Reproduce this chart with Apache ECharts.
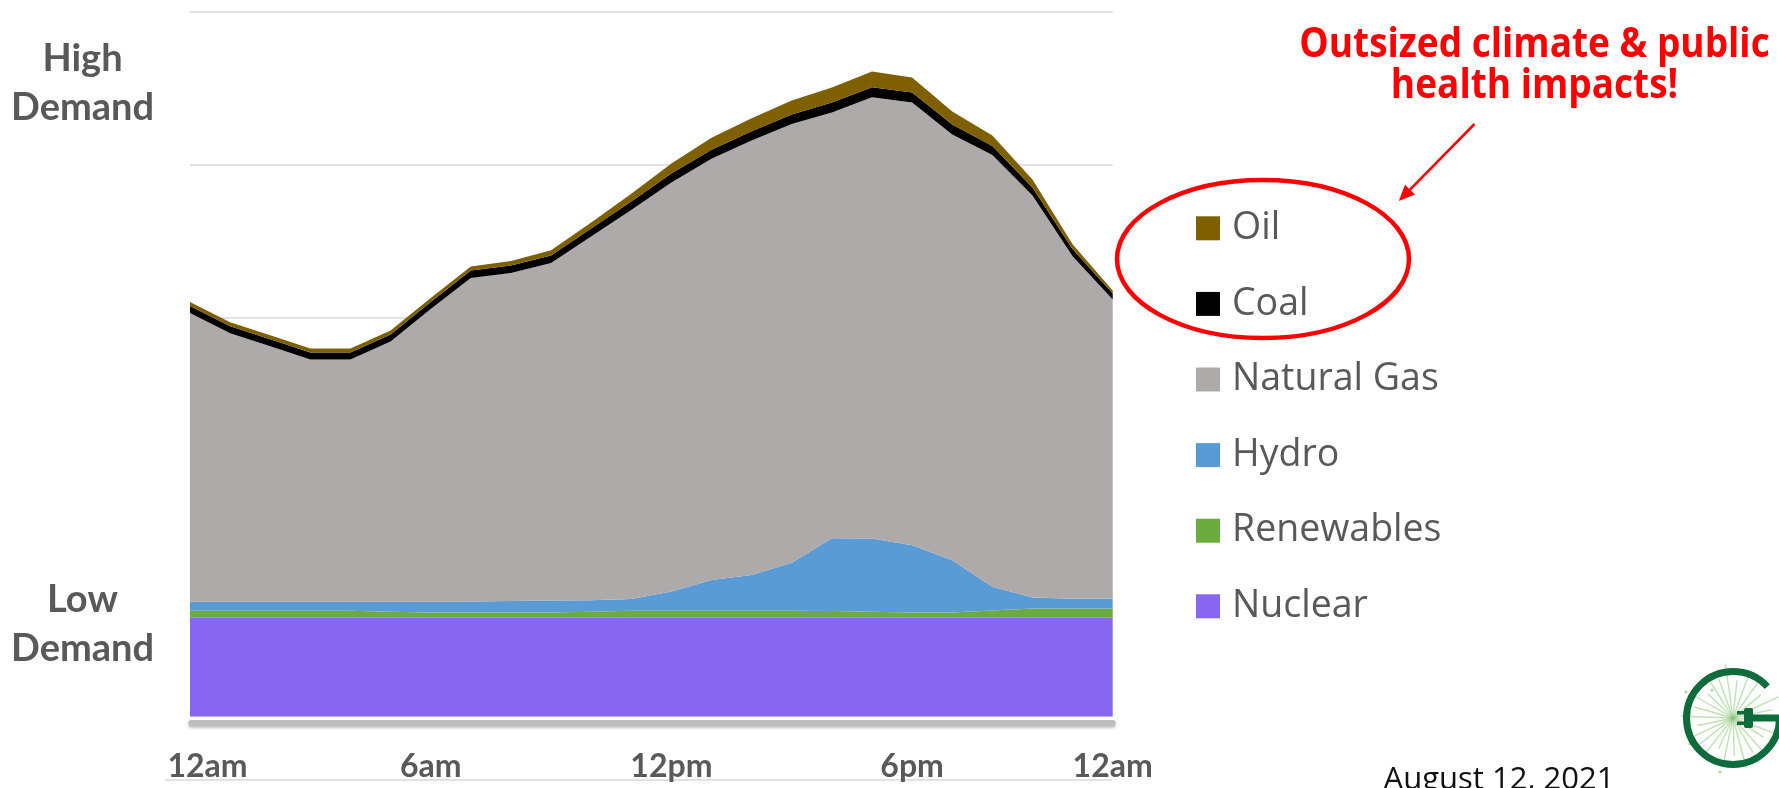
<!DOCTYPE html>
<html>
<head>
<meta charset="utf-8">
<script src="https://cdn.jsdelivr.net/npm/echarts@6/dist/echarts.min.js"></script>
<style>
  html, body { margin: 0; padding: 0; background: #ffffff; }
  #chart { width: 1779px; height: 788px; }
</style>
</head>
<body>
<div id="chart"></div>
<script>
// ---- data (hourly generation mix, arbitrary units) ----
const hours = ['0','1','2','3','4','5','6','7','8','9','10','11','12','13','14','15','16','17','18','19','20','21','22','23'];
const tickIndex = [0, 6, 12, 18, 23];
const tickLabels = ['12am', '6am', '12pm', '6pm', '12am'];
const seriesNames = ['Nuclear', 'Renewables', 'Hydro', 'Natural Gas', 'Coal', 'Oil'];
const legendOrder = ['Oil', 'Coal', 'Natural Gas', 'Hydro', 'Renewables', 'Nuclear'];

const nuclear    = [6.45,6.45,6.45,6.45,6.45,6.45,6.45,6.45,6.45,6.45,6.45,6.45,6.45,6.45,6.45,6.45,6.45,6.45,6.45,6.45,6.45,6.45,6.45,6.45];
const renewables = [0.46,0.46,0.46,0.46,0.46,0.40,0.35,0.35,0.35,0.35,0.40,0.46,0.46,0.46,0.46,0.46,0.44,0.40,0.35,0.35,0.47,0.61,0.61,0.61];
const hydro      = [0.59,0.59,0.59,0.59,0.59,0.64,0.69,0.72,0.74,0.78,0.75,0.76,1.25,2.00,2.33,3.13,4.74,4.77,4.38,3.41,1.55,0.72,0.63,0.63];
const naturalGas = [18.83,17.50,16.66,15.79,15.79,16.98,19.10,21.09,21.40,22.01,23.71,25.37,26.68,27.47,28.34,28.61,27.77,28.77,28.88,27.75,28.16,26.21,22.33,19.52];
const coal       = [0.46,0.46,0.46,0.46,0.46,0.46,0.46,0.49,0.49,0.49,0.52,0.55,0.59,0.59,0.59,0.62,0.65,0.65,0.65,0.65,0.59,0.52,0.46,0.39];
const oil        = [0.26,0.26,0.26,0.26,0.26,0.26,0.26,0.26,0.29,0.33,0.39,0.52,0.65,0.78,0.85,0.91,0.98,1.04,0.98,0.85,0.68,0.52,0.33,0.20];

const seriesData = [nuclear, renewables, hydro, naturalGas, coal, oil];
const colors = ['#8767f0', '#6cab3f', '#5b9bd5', '#aeaaaa', '#000000', '#7f6000'];

// value scale: 0..46 over the plot; gridlines every 10 units counted from -4
const yMax = 46, gridMin = -4, gridStep = 10;

const chart = echarts.init(document.getElementById('chart'), null, { renderer: 'canvas' });

const labelFont = { color: '#595959', fontFamily: 'Lato', fontWeight: 700, fontSize: 32, lineHeight: 32 };

function areaSeries(i) {
  return {
    name: seriesNames[i],
    type: 'line',
    stack: 'total',
    xAxisIndex: 0,
    yAxisIndex: 0,
    data: seriesData[i],
    symbol: 'none',
    showSymbol: false,
    lineStyle: { width: 0, color: colors[i] },
    itemStyle: { color: colors[i] },
    areaStyle: { color: colors[i], opacity: 1 },
    emphasis: { disabled: true },
    silent: true
  };
}

// light rays of the logo
const logoCx = 1733, logoCy = 718;
const rayAngles = [5, 20, 32, 48, 60, 75, 88, 102, 115, 128, 142, 155, 168, 182, 196, 210, 224, 238, 250, 262, 276, 290, 305, 320, 335, 348];
const rayLens = [30, 44, 36, 48, 40, 52, 38, 47, 34, 50, 42, 46, 36, 52, 40, 47, 35, 50, 42, 55, 38, 48, 44, 36, 50, 40];
const rays = rayAngles.map((a, k) => {
  const r = a * Math.PI / 180;
  return {
    type: 'line', silent: true,
    shape: { x1: logoCx, y1: logoCy, x2: logoCx + Math.cos(r) * rayLens[k], y2: logoCy + Math.sin(r) * rayLens[k] },
    style: { stroke: 'rgba(140,200,120,0.55)', lineWidth: 1.4 }
  };
});

const textStyleC = (text, font, fill) => ({ text, font, fill, align: 'center', verticalAlign: 'middle', textAlign: 'center', textVerticalAlign: 'middle' });

const plotBottom = 71.3, plotTop = 11.3;
const unitPx = (788 - plotBottom - plotTop) / yMax;

const option = {
  animation: false,
  backgroundColor: '#ffffff',
  grid: [
    { left: 190, right: 666.3, top: plotTop, bottom: plotBottom, containLabel: false },
    // same vertical scale, extended down to the first gridline value
    { left: 190, right: 666.3, top: plotTop, bottom: plotBottom + gridMin * unitPx, containLabel: false }
  ],
  legend: {
    orient: 'vertical',
    left: 1196,
    top: 209.3,
    padding: 0,
    data: legendOrder,
    icon: 'rect',
    itemWidth: 24,
    itemHeight: 24,
    itemGap: 37.6,
    selectedMode: false,
    textStyle: { fontFamily: 'Open Sans', fontSize: 37.5, lineHeight: 37.5, color: '#595959', padding: [0, 0, 0, 7] }
  },
  xAxis: [{
    type: 'category',
    gridIndex: 0,
    data: hours,
    boundaryGap: false,
    offset: 6,
    axisLine: {
      show: true, onZero: false,
      lineStyle: { color: '#bdbdbd', width: 6, type: [38.12, 2.5], dashOffset: -1.25,
                   shadowBlur: 3, shadowColor: 'rgba(0,0,0,0.25)', shadowOffsetY: 2 }
    },
    axisTick: { show: false },
    splitLine: { show: false },
    axisLabel: Object.assign({
      interval: function (idx) { return tickIndex.indexOf(idx) >= 0; },
      formatter: function (val, idx) {
        const k = tickIndex.indexOf(idx);
        if (k < 0) return '';
        return k === 0 ? '{first|' + tickLabels[k] + '}' : tickLabels[k];
      },
      margin: 27.5,
      rich: { first: Object.assign({ padding: [0, 0, 0, 35] }, labelFont) }
    }, labelFont)
  }, {
    type: 'category', gridIndex: 1, data: hours, boundaryGap: false, show: false
  }],
  yAxis: [
    { type: 'value', gridIndex: 0, min: 0, max: yMax, axisLine: { show: false }, axisTick: { show: false },
      axisLabel: { show: false }, splitLine: { show: false } },
    { type: 'value', gridIndex: 1, min: gridMin, max: yMax, interval: gridStep, axisLine: { show: false }, axisTick: { show: false },
      axisLabel: { show: false },
      splitLine: { show: true, showMinLine: false, lineStyle: { color: '#d9d9d9', width: 1.5 } } }
  ],
  series: [0, 1, 2, 3, 4, 5].map(areaSeries),
  graphic: [
    // y descriptors
    { type: 'text', x: 82.5, y: 59, silent: true, style: textStyleC('High', '700 38px Lato', '#595959') },
    { type: 'text', x: 82.5, y: 108, silent: true, style: textStyleC('Demand', '700 38px Lato', '#595959') },
    { type: 'text', x: 82.5, y: 600, silent: true, style: textStyleC('Low', '700 38px Lato', '#595959') },
    { type: 'text', x: 82.5, y: 649, silent: true, style: textStyleC('Demand', '700 38px Lato', '#595959') },
    // faint base line under labels
    { type: 'line', silent: true, shape: { x1: 165, y1: 780, x2: 1112, y2: 780 },
      style: { stroke: '#e2e2e2', lineWidth: 2 } },
    // annotation
    { type: 'text', x: 1534.5, y: 45, scaleY: 1.13, silent: true,
      style: textStyleC('Outsized climate & public', '700 37px "Open Sans"', '#ff0000') },
    { type: 'text', x: 1534.5, y: 86, scaleY: 1.13, silent: true,
      style: textStyleC('health impacts!', '700 37px "Open Sans"', '#ff0000') },
    { type: 'line', silent: true, shape: { x1: 1474.5, y1: 124, x2: 1410, y2: 189.6 },
      style: { stroke: '#ff0000', lineWidth: 2.5 } },
    { type: 'polygon', silent: true, shape: { points: [[1398.8, 201], [1415, 194.5], [1405, 184.7]] },
      style: { fill: '#ff0000' } },
    { type: 'ellipse', silent: true, shape: { cx: 1263, cy: 259, rx: 146, ry: 79 },
      style: { fill: 'none', stroke: '#ff0000', lineWidth: 4.5 } },
    // date
    { type: 'text', x: 1499, y: 780, silent: true,
      style: textStyleC('August 12, 2021', '400 31px "Open Sans"', '#111111') },
    // logo
    { type: 'group', silent: true, children: rays.concat([
      { type: 'circle', shape: { cx: 1686, cy: 692, r: 1.6 }, style: { fill: 'rgba(140,200,120,0.7)' } },
      { type: 'circle', shape: { cx: 1690, cy: 744, r: 1.6 }, style: { fill: 'rgba(140,200,120,0.7)' } },
      { type: 'circle', shape: { cx: 1712, cy: 690, r: 1.6 }, style: { fill: 'rgba(140,200,120,0.7)' } },
      { type: 'circle', shape: { cx: 1720, cy: 772, r: 1.6 }, style: { fill: 'rgba(140,200,120,0.7)' } },
      { type: 'arc', shape: { cx: logoCx, cy: logoCy, r: 46.5, startAngle: 0, endAngle: 317.5 * Math.PI / 180, clockwise: true },
        style: { stroke: '#0d6b3c', lineWidth: 7, fill: 'none' } },
      { type: 'rect', shape: { x: 1752, y: 714.5, width: 30, height: 7 }, style: { fill: '#0d6b3c' } },
      { type: 'rect', shape: { x: 1744, y: 708, width: 9, height: 20, r: 2 }, style: { fill: '#0d6b3c' } },
      { type: 'rect', shape: { x: 1737, y: 711, width: 8, height: 3.5 }, style: { fill: '#0d6b3c' } },
      { type: 'rect', shape: { x: 1737, y: 721.5, width: 8, height: 3.5 }, style: { fill: '#0d6b3c' } }
    ]) }
  ]
};

chart.setOption(option);
</script>
</body>
</html>
